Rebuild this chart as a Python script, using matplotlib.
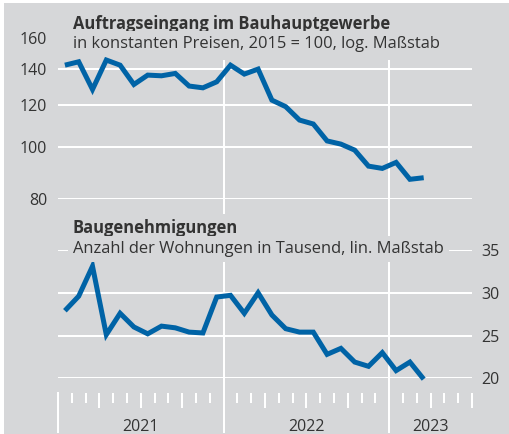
import matplotlib
matplotlib.use("Agg")
import matplotlib.pyplot as plt
from matplotlib.patches import Rectangle
from matplotlib.ticker import NullLocator, FixedLocator
import matplotlib.transforms as mtransforms

# ---- data ----
orders = [142.6, 144.7, 128.4, 145.8, 142.6, 131.2, 136.6, 136.2, 137.6,
          130.3, 129.3, 132.7, 142.6, 137.2, 140.2, 122.6, 119.2, 112.5,
          110.6, 102.8, 101.4, 98.8, 92.2, 91.3, 93.7, 87.1, 87.7]
permits = [27.9, 29.6, 33.1, 25.1, 27.6, 26.0, 25.2, 26.1, 25.9, 25.4, 25.3,
           29.5, 29.7, 27.6, 30.0, 27.4, 25.8, 25.4, 25.4, 22.8, 23.5, 21.9,
           21.4, 23.0, 20.9, 21.9, 19.9]
year_labels = ["2021", "2022", "2023"]
months_per_year = [12, 12, 6]
top_ticks = [80, 100, 120, 140, 160]
bottom_ticks = [20, 25, 30, 35]
title_top = "Auftragseingang im Bauhauptgewerbe"
sub_top = "in konstanten Preisen, 2015 = 100, log. Maßstab"
title_bot = "Baugenehmigungen"
sub_bot = "Anzahl der Wohnungen in Tausend, lin. Maßstab"

# ---- style ----
plt.rcParams['font.family'] = ['Open Sans', 'DejaVu Sans']
BG = "#d6d7d9"
BLUE = "#0063a6"
TXT = "#333333"
FS = 11.5
FST = 11.9
W, H = 510, 434

def fx(px):
    return px / W

def fy(py):
    return 1 - py / H

fig = plt.figure(figsize=(W / 100, H / 100), dpi=100, facecolor="white")
fig.patches.append(Rectangle((fx(4), 0), 1 - fx(4), fy(3), transform=fig.transFigure,
                             facecolor=BG, edgecolor="none", zorder=-10))

XL, XR = 58, 472
n_total = sum(months_per_year)
xs = [i + 0.5 for i in range(len(orders))]

# frame axes for month ticks & year lines
yb, yt = 392.7, 61
axx = fig.add_axes([fx(XL), fy(yb), fx(XR) - fx(XL), fy(yt) - fy(yb)])
axx.set_facecolor("none")
axx.set_xlim(0, n_total)
axx.set_ylim(0, 1)
for s in axx.spines.values():
    s.set_visible(False)
axx.yaxis.set_major_locator(NullLocator())
axx.xaxis.set_major_locator(FixedLocator(list(range(0, n_total + 1, 3))))
axx.xaxis.set_minor_locator(FixedLocator(list(range(0, n_total + 1))))
axx.tick_params(axis="x", which="major", length=11, width=1.44, color="white",
                direction="out", labelbottom=False)
axx.tick_params(axis="x", which="minor", length=7.2, width=1.44, color="white",
                direction="out")
ylow = (yb - 432) / (yb - yt)
start = 0
trans = mtransforms.blended_transform_factory(axx.transData, fig.transFigure)
for k, (lab, n) in enumerate(zip(year_labels, months_per_year)):
    if k == 0:
        axx.axvline(start, ymin=ylow, ymax=0, color="white", lw=1.44, clip_on=False)
    else:
        axx.axvline(start, ymin=ylow, ymax=1, color="white", lw=1.44, clip_on=False)
    axx.text(start + n / 2, fy(431), lab, transform=trans, ha="center",
             va="baseline", fontsize=FS, color=TXT)
    start += n

# top axes (log)
ax1 = fig.add_axes([fx(XL), fy(199), fx(XR) - fx(XL), fy(38.5) - fy(199)])
ax1.set_facecolor("none")
ax1.set_yscale("log")
ax1.set_ylim(80, 160)
ax1.set_xlim(0, n_total)
ax1.yaxis.set_major_locator(FixedLocator(top_ticks))
ax1.yaxis.set_minor_locator(NullLocator())
ax1.set_yticklabels([str(t) for t in top_ticks])
ax1.tick_params(axis="y", length=0, pad=7.7, labelsize=FS, labelcolor=TXT)
ax1.set_xticks([])
for s in ax1.spines.values():
    s.set_visible(False)
for t in top_ticks:
    ax1.axhline(t, color="white", lw=1.44, zorder=1)
ax1.plot(xs, orders, color=BLUE, lw=3.6, solid_joinstyle="miter",
         solid_capstyle="butt", clip_on=False, zorder=3)

# bottom axes (linear)
ax2 = fig.add_axes([fx(XL), fy(378.3), fx(XR) - fx(XL), fy(250) - fy(378.3)])
ax2.set_facecolor("none")
ax2.set_ylim(20, 35)
ax2.set_xlim(0, n_total)
ax2.yaxis.set_major_locator(FixedLocator(bottom_ticks))
ax2.yaxis.tick_right()
ax2.set_yticklabels([str(t) for t in bottom_ticks])
ax2.tick_params(axis="y", length=0, pad=7.0, labelsize=FS, labelcolor=TXT)
ax2.set_xticks([])
for s in ax2.spines.values():
    s.set_visible(False)
for t in bottom_ticks:
    ax2.axhline(t, color="white", lw=1.44, zorder=1)
ax2.plot(xs, permits, color=BLUE, lw=3.6, solid_joinstyle="miter",
         solid_capstyle="butt", clip_on=False, zorder=3)

box = dict(facecolor=BG, edgecolor="none", boxstyle="square,pad=0.3")
fig.text(fx(73), fy(29.3), title_top, fontsize=FST, fontweight="bold", color=TXT,
         va="baseline", ha="left", bbox=box)
fig.text(fx(73), fy(47.7), sub_top, fontsize=FST, color=TXT,
         va="baseline", ha="left", bbox=box)
fig.text(fx(73), fy(233.3), title_bot, fontsize=FST, fontweight="bold", color=TXT,
         va="baseline", ha="left", bbox=box)
fig.text(fx(73), fy(253.3), sub_bot, fontsize=FST, color=TXT,
         va="baseline", ha="left", bbox=box)

fig.savefig("out.png", dpi=100, facecolor="white")
